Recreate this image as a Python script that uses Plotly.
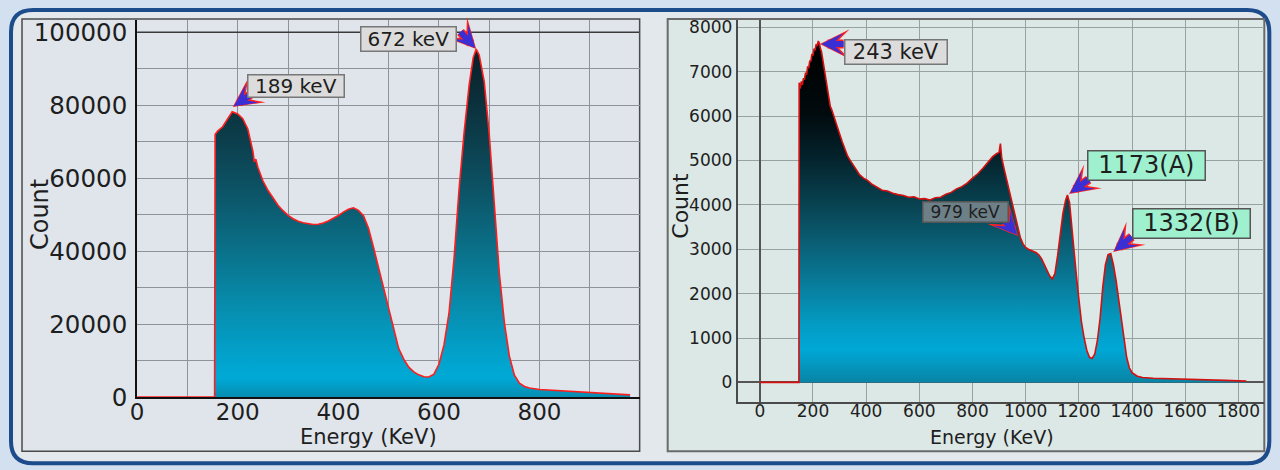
import plotly.graph_objects as go

W_REF, H_REF = 1280, 470      # reference picture size; layout positions below are given in its pixels
W_FIG, H_FIG = 1280, 486      # rendered figure size
# measured capture mapping: picture_x = SX*fig_x + AX, picture_y = SY*fig_y + AY
SX, AX = 0.9935, 8.0
SY, AY = 0.9645, 3.1

# ---------------- data: left spectrum (Cs-137 like) ----------------
cs_energy = [0, 100, 154, 155, 160, 170, 180, 189, 200, 210, 220, 230, 233, 236, 240, 250, 260,
             270, 280, 290, 300, 310, 320, 330, 340, 350, 360, 370, 380, 390, 400, 410,
             420, 430, 440, 450, 460, 470, 480, 490, 500, 510, 520, 530, 540, 550, 560,
             570, 580, 590, 600, 610, 620, 630, 640, 650, 660, 668, 674, 680, 690, 700,
             710, 720, 730, 740, 750, 760, 770, 780, 800, 850, 900, 950, 980]
cs_count = [0, 0, 0, 72000, 72900, 74100, 76400, 78200, 77600, 76300, 73500, 67500, 64500, 65200, 63000, 59300, 56700,
            54500, 52600, 51100, 49800, 48900, 48200, 47800, 47500, 47300, 47400, 47700, 48300, 49000, 49800, 50700,
            51500, 51900, 51200, 49700, 46300, 41000, 35500, 29600, 23800, 18200, 13300, 10400, 8200, 6900, 6100,
            5600, 5500, 6300, 9000, 14300, 23000, 38000, 57000, 72500, 85500, 93000, 95400, 93800, 86500, 72000,
            52300, 34000, 20500, 11200, 6000, 3800, 2900, 2500, 2100, 1700, 1300, 900, 600]

# ---------------- data: right spectrum (Co-60 like) ----------------
co_energy = [0, 100, 147, 148, 152, 156, 160, 164, 168, 172, 176, 180, 184, 188, 192, 196, 200, 204,
             208, 212, 216, 220, 224, 228, 232, 236, 240, 245, 250, 255, 260, 265, 270, 280, 290,
             300, 310, 320, 330, 340, 350, 360, 375, 390, 405, 420, 440, 460, 480, 500, 520,
             540, 560, 580, 600, 620, 640, 660, 680, 700, 720, 740, 760, 780, 800, 820, 840,
             860, 875, 890, 900, 905, 910, 920, 930, 940, 950, 960, 970, 980, 990, 1000, 1010,
             1020, 1030, 1040, 1050, 1060, 1070, 1080, 1090, 1100, 1110, 1120, 1130, 1140, 1150,
             1157, 1165, 1170, 1180, 1190, 1200, 1210, 1220, 1230, 1240, 1250, 1260, 1270, 1280,
             1290, 1300, 1310, 1320, 1330, 1340, 1350, 1360, 1370, 1380, 1390, 1400, 1420, 1440,
             1480, 1520, 1560, 1600, 1650, 1700, 1750, 1800, 1830]
co_count = [0, 0, 0, 6750, 6620, 6780, 6700, 6850, 6820, 6980, 6930, 7120, 7080, 7250, 7230, 7400, 7360, 7520,
            7480, 7620, 7580, 7690, 7640, 7520, 7450, 7300, 7150, 6950, 6750, 6550, 6350, 6220, 6150, 5950, 5800,
            5600, 5420, 5250, 5100, 5000, 4900, 4800, 4680, 4600, 4550, 4470, 4400, 4330, 4310, 4260, 4230,
            4210, 4170, 4180, 4130, 4140, 4110, 4160, 4170, 4240, 4280, 4360, 4410, 4490, 4600, 4700, 4830,
            4960, 5080, 5150, 5180, 5380, 5050, 4780, 4520, 4260, 4000, 3720, 3460, 3260, 3120, 3040, 3000,
            2980, 2950, 2920, 2870, 2780, 2650, 2520, 2400, 2330, 2450, 2850, 3350, 3800, 4100,
            4220, 4050, 3700, 3050, 2450, 1880, 1350, 1000, 720, 565, 540, 640, 950, 1450,
            2150, 2650, 2880, 2900, 2650, 2300, 1880, 1400, 950, 560, 330, 220, 140, 110,
            95, 90, 80, 75, 65, 55, 45, 35, 30]

# peak labels
cs_peak_text = ["189 keV", "672 keV"]
cs_peak_energy = [190, 674]
cs_peak_count = [79500, 95400]
co_peak_text = ["243 keV", "979 keV", "1173(A)", "1332(B)"]
co_peak_energy = [226, 971, 1163, 1329]
co_peak_count = [7620, 3300, 4245, 2936]

FONT = "DejaVu Sans"
TXT = "#1e1e1e"


def PX(v):
    return ((v - AX) / SX) / W_FIG


def PY(v):
    return 1 - ((v - AY) / SY) / H_FIG


fig = go.Figure()

fig.add_trace(go.Scatter(
    x=cs_energy, y=cs_count, mode="lines", xaxis="x", yaxis="y",
    line=dict(color="#ff1e1e", width=1.6), fill="tozeroy",
    fillgradient=dict(type="vertical", start=0, stop=max(cs_count), colorscale=[
        [0, "#0b7a9b"], [0.035, "#078bae"], [0.09, "#00a9d6"], [0.15, "#02a2cc"],
        [0.3, "#078bab"], [0.45, "#0a7088"], [0.6, "#0c5568"], [0.75, "#0c3e4c"],
        [0.9, "#0b2b35"], [1, "#08202a"]]),
    showlegend=False, hoverinfo="skip"))

fig.add_trace(go.Scatter(
    x=co_energy, y=co_count, mode="lines", xaxis="x2", yaxis="y2",
    line=dict(color="#d41010", width=1.6), fill="tozeroy",
    fillgradient=dict(type="vertical", start=0, stop=max(co_count), colorscale=[
        [0, "#0b7696"], [0.05, "#0789ac"], [0.13, "#00a8d6"], [0.2, "#039cc4"],
        [0.3, "#0880a0"], [0.42, "#0a6178"], [0.55, "#08404e"], [0.68, "#03212a"],
        [0.8, "#010a0d"], [1, "#000000"]]),
    showlegend=False, hoverinfo="skip"))


def rounded_rect(x0p, y0p, x1p, y1p, r):
    return (f"M {PX(x0p + r)},{PY(y0p)} L {PX(x1p - r)},{PY(y0p)} Q {PX(x1p)},{PY(y0p)} {PX(x1p)},{PY(y0p + r)} "
            f"L {PX(x1p)},{PY(y1p - r)} Q {PX(x1p)},{PY(y1p)} {PX(x1p - r)},{PY(y1p)} "
            f"L {PX(x0p + r)},{PY(y1p)} Q {PX(x0p)},{PY(y1p)} {PX(x0p)},{PY(y1p - r)} "
            f"L {PX(x0p)},{PY(y0p + r)} Q {PX(x0p)},{PY(y0p)} {PX(x0p + r)},{PY(y0p)} Z")


shapes = [
    dict(type="path", xref="paper", yref="paper", path=rounded_rect(12, 11, 1269, 464, 22),
         fillcolor="#e3e8ec", line=dict(color="#1c4c8c", width=4), layer="below"),
    dict(type="rect", xref="paper", yref="paper", x0=PX(23), x1=PX(640), y0=PY(452), y1=PY(20),
         fillcolor="#dfe5eb", line=dict(color="#4a4a4a", width=1.5), layer="below"),
    dict(type="rect", xref="paper", yref="paper", x0=PX(668), x1=PX(1264), y0=PY(452), y1=PY(20),
         fillcolor="#dbe8e5", line=dict(color="#6a6a6a", width=2), layer="below"),
    dict(type="line", xref="x domain", yref="y", x0=0, x1=1, y0=100000, y1=100000,
         line=dict(color="#3a3a3a", width=1.5), layer="above"),
]

ann = []


def title(text, xp, yp, size, angle=0):
    return dict(text=text, xref="paper", yref="paper", x=PX(xp), y=PY(yp), textangle=angle,
                xanchor="center", yanchor="middle", showarrow=False,
                font=dict(family=FONT, size=size, color=TXT))


ann += [
    title("Count", 41, 216, 24, -90),
    title("Energy (KeV)", 369, 438, 21),
    title("Count", 680, 207, 22, -90),
    title("Energy (KeV)", 992, 438, 19),
]


def arrow(xr, yr, x, y, ax, ay):
    ax, ay = ax / SX, ay / SY
    return [
        dict(text="", xref=xr, yref=yr, x=x, y=y, ax=ax, ay=ay, showarrow=True,
             arrowhead=3, arrowsize=0.55, arrowwidth=9, arrowcolor="#ff2222", standoff=0),
        dict(text="", xref=xr, yref=yr, x=x, y=y, ax=ax, ay=ay, showarrow=True,
             arrowhead=3, arrowsize=0.62, arrowwidth=6, arrowcolor="#3a2fd4", standoff=1.5),
    ]


def box(xr, yr, x, y, text, size, bg, w, h, bc="#777777"):
    return dict(text=text, xref=xr, yref=yr, x=x, y=y, showarrow=False,
                xanchor="center", yanchor="middle",
                font=dict(family=FONT, size=size, color=TXT), bgcolor=bg,
                bordercolor=bc, borderwidth=1.5, borderpad=0, width=w / SX, height=h / SY)


offs_cs = [(19, -13), (-17, -18)]
for e, c, (ax, ay) in zip(cs_peak_energy, cs_peak_count, offs_cs):
    ann += arrow("x", "y", e, c, ax, ay)
ann.append(box("x", "y", 316, 85400, cs_peak_text[0], 20, "#dcdcdc", 94, 20))
ann.append(box("x", "y", 540, 98300, cs_peak_text[1], 20, "#dcdcdc", 93, 22))

offs_co = [(25, 0), (-14, -15), (21, -15), (20, -16)]
for e, c, (ax, ay) in zip(co_peak_energy, co_peak_count, offs_co):
    ann += arrow("x2", "y2", e, c, ax, ay)
ann.append(box("x2", "y2", 512, 7443, co_peak_text[0], 21, "#dcdcdc", 100, 22))
ann.append(box("x2", "y2", 772, 3838, co_peak_text[1], 17, "#6d8088", 83, 18, bc="#555555"))
ann.append(box("x2", "y2", 1453, 4886, co_peak_text[2], 24, "#9ff0cf", 115, 27, bc="#555555"))
ann.append(box("x2", "y2", 1623, 3579, co_peak_text[3], 24, "#9ff0cf", 115, 27, bc="#555555"))

grid_l = "#8d9399"
grid_r = "#98a3a1"

fig.update_layout(
    width=W_FIG, height=H_FIG, margin=dict(l=0, r=0, t=0, b=0), autosize=False,
    paper_bgcolor="#d3e0ef", plot_bgcolor="rgba(0,0,0,0)",
    font=dict(family=FONT, color=TXT),
    shapes=shapes, annotations=ann, showlegend=False,
    xaxis=dict(domain=[PX(138), PX(640)], range=[0, 999], anchor="y",
               tick0=0, dtick=200, tickformat="d", ticks="",
               showgrid=True, gridcolor=grid_l, gridwidth=1.3,
               minor=dict(dtick=100, showgrid=True, gridcolor=grid_l, gridwidth=1.3),
               showline=True, linecolor="#111111", linewidth=2, zeroline=False,
               ticklabelstandoff=-7,
               tickfont=dict(family=FONT, size=23, color=TXT)),
    yaxis=dict(domain=[PY(398), PY(21)], range=[0, 103400], anchor="x",
               tick0=0, dtick=20000, tickformat="d", ticks="",
               showgrid=True, gridcolor=grid_l, gridwidth=1.3,
               minor=dict(dtick=10000, showgrid=True, gridcolor=grid_l, gridwidth=1.3),
               showline=True, linecolor="#111111", linewidth=2, zeroline=False,
               ticklabelstandoff=3,
               tickfont=dict(family=FONT, size=24.5, color=TXT)),
    xaxis2=dict(domain=[PX(738), PX(1264)], range=[-83, 1897.6], anchor="y2",
                tick0=0, dtick=200, tickformat="d", ticks="",
                showgrid=True, gridcolor=grid_r, gridwidth=1.3,
                showline=True, linecolor="#4a4a4a", linewidth=2,
                zeroline=True, zerolinecolor="#555555", zerolinewidth=1.5,
                ticklabelstandoff=-7,
                tickfont=dict(family=FONT, size=17, color=TXT)),
    yaxis2=dict(domain=[PY(402.7), PY(21)], range=[-437, 8165], anchor="x2",
                tick0=0, dtick=1000, tickformat="d", ticks="",
                showgrid=True, gridcolor=grid_r, gridwidth=1.3,
                showline=True, linecolor="#4a4a4a", linewidth=2,
                zeroline=True, zerolinecolor="#555555", zerolinewidth=1.5,
                ticklabelstandoff=0,
                tickfont=dict(family=FONT, size=17, color=TXT)),
)

post = ("var d=document.getElementById('{plot_id}');"
        "d.style.position='fixed';d.style.left='0px';d.style.top='0px';"
        "document.documentElement.style.margin='0';document.documentElement.style.overflow='hidden';"
        "document.documentElement.style.background='#d3e0ef';"
        "document.body.style.margin='0';document.body.style.padding='0';document.body.style.overflow='hidden';"
        "document.body.style.background='#d3e0ef';")

fig.write_html("out.html", config={"displayModeBar": False}, post_script=post)
